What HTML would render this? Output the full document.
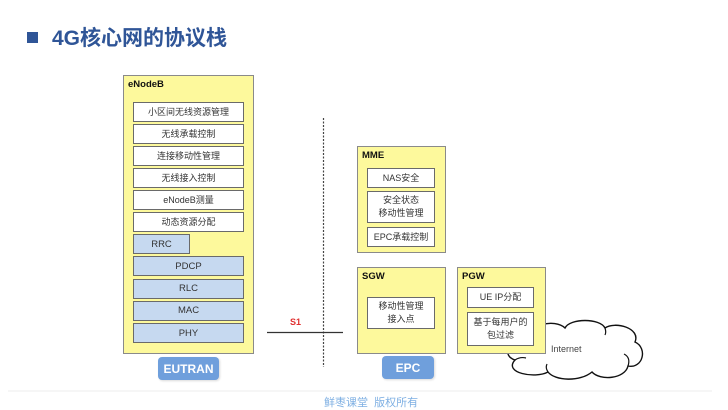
<!DOCTYPE html>
<html><head><meta charset="utf-8">
<style>
html,body{margin:0;padding:0;background:#fff;}
body{width:728px;height:409px;position:relative;overflow:hidden;font-family:"Liberation Sans","Noto Sans CJK SC",sans-serif;}
.a{position:absolute;box-sizing:border-box;}
.y{background:#fdf99c;border:1.5px solid #8a8a8a;}
.w{background:#fff;border:1.6px solid #6a6a6a;color:#333;font-size:9px;display:flex;align-items:center;justify-content:center;text-align:center;line-height:13px;}
.b{background:#c6d9f0;border:1.6px solid #6a6a6a;color:#333;font-size:9.5px;display:flex;align-items:center;justify-content:center;}
.lbl{position:absolute;font-weight:bold;font-size:9.5px;color:#111;}
.btn{position:absolute;background:#6f9fdc;color:#fff;font-weight:bold;font-size:12px;border-radius:4px;display:flex;align-items:center;justify-content:center;box-shadow:1px 1px 2px rgba(0,0,0,0.15);}
</style></head><body>

<div class="a" style="left:27px;top:32px;width:11px;height:11px;background:#2f5597;"></div>
<div class="a" style="left:52px;top:25px;font-size:21px;font-weight:bold;color:#2f5597;line-height:28px;white-space:nowrap;">4G核心网的协议栈</div>

<!-- eNodeB -->
<div class="a y" style="left:123px;top:75px;width:131px;height:279px;"></div>
<div class="lbl" style="left:128px;top:79px;">eNodeB</div>
<div class="a w" style="left:133px;top:102px;width:111px;height:20px;">小区间无线资源管理</div>
<div class="a w" style="left:133px;top:124px;width:111px;height:20px;">无线承载控制</div>
<div class="a w" style="left:133px;top:146px;width:111px;height:20px;">连接移动性管理</div>
<div class="a w" style="left:133px;top:168px;width:111px;height:20px;">无线接入控制</div>
<div class="a w" style="left:133px;top:190px;width:111px;height:20px;">eNodeB测量</div>
<div class="a w" style="left:133px;top:212px;width:111px;height:20px;">动态资源分配</div>
<div class="a b" style="left:133px;top:234px;width:57px;height:20px;">RRC</div>
<div class="a b" style="left:133px;top:256px;width:111px;height:20px;">PDCP</div>
<div class="a b" style="left:133px;top:278.5px;width:111px;height:20px;">RLC</div>
<div class="a b" style="left:133px;top:300.5px;width:111px;height:20px;">MAC</div>
<div class="a b" style="left:133px;top:323px;width:111px;height:20px;">PHY</div>
<div class="btn" style="left:158px;top:357px;width:61px;height:23px;">EUTRAN</div>

<!-- S1 lines -->
<svg class="a" style="left:0;top:0;" width="728" height="409">
<line x1="323.5" y1="118" x2="323.5" y2="367" stroke="#444" stroke-width="1.2" stroke-dasharray="2,1.5"/>
<line x1="267" y1="332.5" x2="343" y2="332.5" stroke="#333" stroke-width="1.3"/>
<line x1="8" y1="391" x2="712" y2="391" stroke="#ececec" stroke-width="1"/>
<path d="M 530 340 C 525 325, 555 318, 565 328 C 570 318, 600 318, 605 328 C 615 321, 641 328, 635 342 C 648 348, 643 369, 628 366 C 625 379, 600 381, 592 372 C 580 382, 555 381, 548 372 C 535 379, 503 373, 515 360 C 500 355, 510 338, 530 340 Z" fill="#fff" stroke="#111" stroke-width="1.4"/>
<path d="M 628 366 C 630 360, 628 356, 624 354" fill="none" stroke="#111" stroke-width="1.2"/>
<path d="M 515 360 C 518 358, 522 357, 526 358" fill="none" stroke="#111" stroke-width="1.2"/>
<path d="M 548 372 C 546 369, 546 366, 547 364" fill="none" stroke="#111" stroke-width="1.2"/>
<path d="M 605 328 C 606 331, 606 333, 605 335" fill="none" stroke="#111" stroke-width="1.2"/>
</svg>
<div class="a" style="left:290px;top:317px;font-size:9px;font-weight:bold;color:#e03030;">S1</div>
<div class="a" style="left:551px;top:344px;font-size:9px;color:#444;">Internet</div>

<!-- MME -->
<div class="a y" style="left:357px;top:146px;width:89px;height:107px;"></div>
<div class="lbl" style="left:362px;top:150px;">MME</div>
<div class="a w" style="left:367px;top:168px;width:68px;height:20px;">NAS安全</div>
<div class="a w" style="left:367px;top:191px;width:68px;height:32px;">安全状态<br>移动性管理</div>
<div class="a w" style="left:367px;top:227px;width:68px;height:20px;">EPC承载控制</div>

<!-- SGW -->
<div class="a y" style="left:357px;top:267px;width:89px;height:87px;"></div>
<div class="lbl" style="left:362px;top:271px;">SGW</div>
<div class="a w" style="left:367px;top:297px;width:68px;height:32px;">移动性管理<br>接入点</div>
<div class="btn" style="left:382px;top:356px;width:52px;height:23px;">EPC</div>

<!-- PGW -->
<div class="a y" style="left:457px;top:267px;width:89px;height:87px;"></div>
<div class="lbl" style="left:462px;top:271px;">PGW</div>
<div class="a w" style="left:467px;top:287px;width:67px;height:21px;">UE IP分配</div>
<div class="a w" style="left:467px;top:312px;width:67px;height:34px;">基于每用户的<br>包过滤</div>

<div class="a" style="left:324px;top:394px;font-size:11px;color:#7fb0e3;white-space:nowrap;">鲜枣课堂&nbsp;&nbsp;版权所有</div>
</body></html>
